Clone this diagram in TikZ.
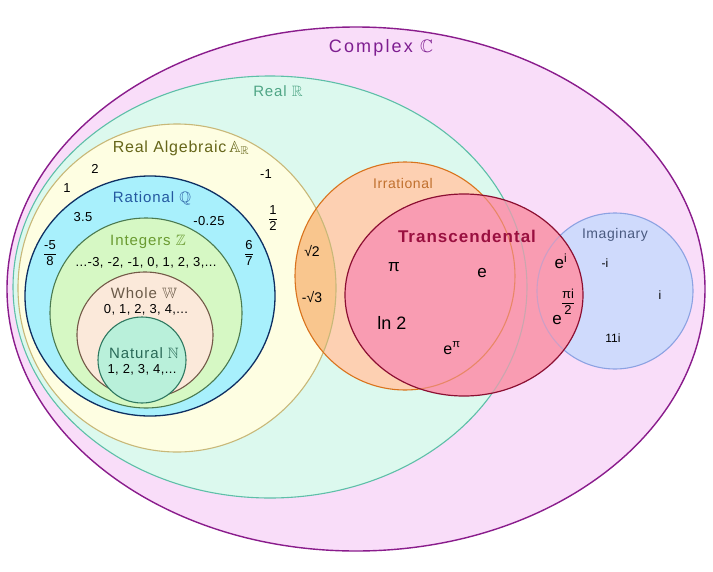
\documentclass[tikz,border=0pt]{standalone}
\usepackage{amsmath,amssymb}
\usepackage{fontspec}
\setmainfont{Liberation Sans}
\definecolor{cxF}{HTML}{F9DDF9}\definecolor{cxB}{HTML}{8A1C8C}\definecolor{cxT}{HTML}{7E1E90}
\definecolor{reF}{HTML}{DCF9EE}\definecolor{reB}{HTML}{5EBFA8}\definecolor{reT}{HTML}{4FA585}
\definecolor{alF}{HTML}{FEFEE2}\definecolor{alB}{HTML}{C8B878}\definecolor{alT}{HTML}{66661A}
\definecolor{raF}{HTML}{A8F0FC}\definecolor{raB}{HTML}{0E2F62}\definecolor{raT}{HTML}{2458A0}
\definecolor{inF}{HTML}{D6F8C4}\definecolor{inB}{HTML}{4A7A50}\definecolor{inT}{HTML}{6A9A30}
\definecolor{whF}{HTML}{FBE9DA}\definecolor{whB}{HTML}{735A48}\definecolor{whT}{HTML}{6A5A48}
\definecolor{naF}{HTML}{B9F0DA}\definecolor{naB}{HTML}{2E7860}\definecolor{naT}{HTML}{2A6A58}
\definecolor{irF}{HTML}{FDD0B2}\definecolor{irA}{HTML}{F9C68E}\definecolor{irB}{HTML}{D9731C}\definecolor{irT}{HTML}{C0702E}
\definecolor{trF}{HTML}{F99CB2}\definecolor{trB}{HTML}{8C0F32}\definecolor{trT}{HTML}{9A1040}
\definecolor{imF}{HTML}{CFDAFC}\definecolor{imB}{HTML}{8CA2E2}\definecolor{imT}{HTML}{4A5A80}
\newcommand\ffrac[2]{$\dfrac{\text{#1}}{\text{#2}}$}
\newcommand\fs[1]{\fontsize{#1}{#1}\selectfont}
\begin{document}
\begin{tikzpicture}[x=1pt,y=-1pt,
  lbl/.style={inner sep=0pt,font=\fs{13}\addfontfeature{LetterSpace=3}},
  title/.style={inner sep=0pt,font=\fs{15}\addfontfeature{LetterSpace=6}},
  big/.style={inner sep=0pt,font=\fs{17}}]
\useasboundingbox[fill=white] (0,0) rectangle (713,571);
% sets
\filldraw[fill=cxF,draw=cxB,line width=1.4pt] (356,289) ellipse [x radius=349,y radius=262];
\filldraw[fill=reF,draw=reB,line width=1.1pt] (270,287) ellipse [x radius=257,y radius=211];
\filldraw[fill=alF,draw=alB,line width=1.1pt] (177,288) ellipse [x radius=159,y radius=164];
\filldraw[fill=raF,draw=raB,line width=1.3pt] (150,296) ellipse [x radius=125,y radius=120];
\filldraw[fill=inF,draw=inB,line width=1.1pt] (146,313) ellipse [x radius=96,y radius=95];
\filldraw[fill=whF,draw=whB,line width=1.1pt] (145,335) ellipse [x radius=68,y radius=63];
\filldraw[fill=naF,draw=naB,line width=1.1pt] (142,360) ellipse [x radius=44,y radius=43];
% irrational
\fill[irF] (405,276) ellipse [x radius=110,y radius=114];
\begin{scope}
  \clip (405,276) ellipse [x radius=110,y radius=114];
  \filldraw[fill=irA,draw=alB,line width=1.1pt] (177,288) ellipse [x radius=159,y radius=164];
  \draw[reB,opacity=.6,line width=1.1pt] (270,287) ellipse [x radius=257,y radius=211];
\end{scope}
\draw[irB,line width=1.1pt] (405,276) ellipse [x radius=110,y radius=114];
% imaginary
\filldraw[fill=imF,draw=imB,line width=1.1pt] (615,291) ellipse [x radius=78,y radius=78];
% transcendental
\fill[trF] (464,295) ellipse [x radius=119,y radius=101];
\begin{scope}
  \clip (464,295) ellipse [x radius=119,y radius=101];
  \draw[reB,opacity=.3,line width=1.1pt] (270,287) ellipse [x radius=257,y radius=211];
  \draw[irB,opacity=.5,line width=1.1pt] (405,276) ellipse [x radius=110,y radius=114];
  \draw[imB,opacity=.4,line width=1.1pt] (615,291) ellipse [x radius=78,y radius=78];
\end{scope}
\draw[trB,line width=1.2pt] (464,295) ellipse [x radius=119,y radius=101];
% labels
\node[inner sep=0pt,text=cxT,font=\fs{18}\addfontfeature{LetterSpace=12}] (tc) at (381,48) {Complex $\mathbb{C}$};
\node[title,text=reT] (tr) at (278,91) {Real $\mathbb{R}$};
\node[title,text=alT,font=\fs{16}\addfontfeature{LetterSpace=5}] (ta) at (181,148) {Real Algebraic\,$\mathbb{A}_{\mathbb{R}}$};
\node[lbl] (n2) at (95,169) {2};
\node[lbl] (n1) at (67,188) {1};
\node[lbl] (nm1) at (266,174) {-1};
\node[lbl] (nh) at (273,218) {\ffrac{1}{2}};
\node[title,text=raT] (tq) at (152,198) {Rational $\mathbb{Q}$};
\node[lbl] (n35) at (83,217) {3.5};
\node[lbl] (n025) at (209,221) {-0.25};
\node[lbl] (n58) at (50,253) {\ffrac{-5}{8}};
\node[lbl] (n67) at (249,253) {\ffrac{6}{7}};
\node[title,text=inT] (tz) at (148,242) {Integers $\mathbb{Z}$};
\node[lbl] (zl) at (146,263) {...-3, -2, -1, 0, 1, 2, 3,...};
\node[title,text=whT] (tw) at (144,293) {Whole $\mathbb{W}$};
\node[lbl] (wl) at (146,310) {0, 1, 2, 3, 4,...};
\node[title,text=naT] (tn) at (144,353) {Natural $\mathbb{N}$};
\node[lbl] (nl) at (142,370) {1, 2, 3, 4,...};
\node[inner sep=0pt,text=irT,font=\fs{14}\addfontfeature{LetterSpace=4}] (ti) at (403,183) {Irrational};
\node[lbl,font=\fs{14}] (s2) at (312,251) {√2};
\node[lbl,font=\fs{14}] (s3) at (312,297) {-√3};
\node[inner sep=0pt,text=trT,font=\fs{17}\bfseries\addfontfeature{LetterSpace=6}] (tt) at (467,236) {Transcendental};
\node[big] (pi) at (394,267) {π};
\node[big] (ee) at (482,273) {e};
\node[big,font=\fs{18}] (ln) at (392,323) {ln 2};
\node[big,font=\fs{16}] (ep) at (452,348) {e\textsuperscript{π}};
\node[inner sep=0pt,text=imT,font=\fs{14}\addfontfeature{LetterSpace=4}] (tim) at (615,235) {Imaginary};
\node[big] (ei) at (561,261) {e\textsuperscript{i}};
\node[lbl,font=\fs{12}] (mi) at (605,263) {-i};
\node[lbl,font=\fs{13}] (ef) at (568,302) {\ffrac{πi}{2}};
\node[big] (eb) at (557,320) {e};
\node[lbl,font=\fs{12}] (ii) at (660,295) {i};
\node[lbl,font=\fs{12}] (i11) at (613,338) {11i};
\end{tikzpicture}
\end{document}
